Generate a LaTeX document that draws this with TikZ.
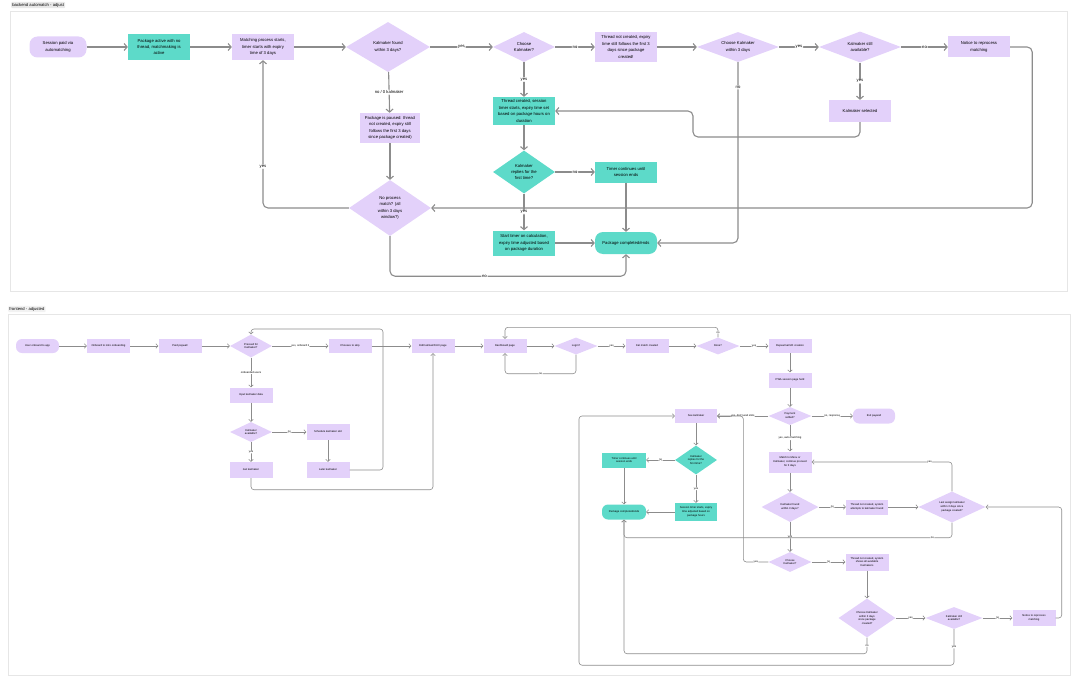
\documentclass[tikz,border=0pt]{standalone}
\usepackage{fontspec}
\setmainfont{Liberation Sans}
\usetikzlibrary{arrows.meta,shapes.geometric,positioning}
\definecolor{lav}{HTML}{E3D1FA}
\definecolor{tq}{HTML}{5DDAC9}
\definecolor{ln}{HTML}{8C8C8C}
\definecolor{frm}{HTML}{E6E6E6}
\newcommand\topfont{\fontsize{4.2}{6.4}\selectfont}
\newcommand\botfont{\fontsize{2.7}{3.9}\selectfont}
\begin{document}
\begin{tikzpicture}[x=1pt,y=-1pt,
    bx/.style={rectangle,fill=lav,align=center,inner sep=1pt,font=\topfont,
        minimum width=62pt,minimum height=26pt},
    tbx/.style={bx,fill=tq},
    rbx/.style={bx,rounded corners=8pt},
    dia/.style={diamond,fill=lav,align=center,inner sep=0pt,shape aspect=2.5,font=\topfont},
    tdia/.style={dia,fill=tq},
    fbx/.style={bx,font=\botfont,inner sep=.5pt,minimum width=43pt,minimum height=15pt},
    ftbx/.style={fbx,fill=tq},
    frbx/.style={fbx,rounded corners=6pt},
    fdia/.style={dia,font=\botfont,shape aspect=1.6},
    ftdia/.style={fdia,fill=tq},
    lbl/.style={fill=white,inner sep=.8pt,font=\topfont},
    flbl/.style={fill=white,inner sep=.5pt,font=\botfont},
    arr/.style={draw=ln,line width=1.1pt,rounded corners=5pt,
        -{Straight Barb[length=3pt,width=7pt]}},
    farr/.style={draw=ln,line width=.6pt,rounded corners=3pt,
        -{Straight Barb[length=2pt,width=4.5pt]}},
    ttl/.style={fill=black!9,inner sep=1.2pt,rounded corners=1pt,anchor=west,
        font=\fontsize{4.2}{5}\selectfont}]
\useasboundingbox (0,0) rectangle (1078,682);

\node[ttl] (t1) at (11,5) {backend automatch - adjust};
\draw[frm,line width=.6pt] (10,11) rectangle (1067,291);
\node[ttl,fill=black!5] (t2) at (8,309) {frontend - adjusted};
\draw[frm,line width=.6pt] (8,314) rectangle (1070,675);

\node[rbx,minimum width=57pt,minimum height=21pt] (1) at (58,47) {Session paid via\\automatching};
\node[tbx] (2) at (159,47) {Package active with no\\thread, matchmaking is\\active};
\node[bx] (3) at (263,47) {Matching process starts,\\timer starts with expiry\\time of 3 days};
\node[dia,minimum width=84pt,minimum height=50pt] (4) at (388,47) {Kalmaker found\\within 3 days?};
\node[dia,minimum width=62pt,minimum height=30pt] (5) at (524,47) {Choose\\Kalmaker?};
\node[bx,minimum height=30pt] (6) at (626,47) {Thread not created, expiry\\time still follows the first 3\\days since package\\created!};
\node[dia,minimum width=82pt,minimum height=30pt] (7) at (738,47) {Choose Kalmaker\\within 3 days};
\node[dia,minimum width=82pt,minimum height=31pt] (8) at (860,47) {Kalmaker still\\available?};
\node[bx,minimum height=21pt] (9) at (979,47) {Notice to reprocess\\matching};
\node[bx,minimum height=22pt] (10) at (860,111) {Kalmaker selected};
\node[tbx,minimum height=28pt] (11) at (524,111) {Thread created, session\\timer starts, expiry time set\\based on package hours on\\duration};
\node[tdia,shape aspect=1.4,minimum width=62pt,minimum height=43pt] (12) at (524,172) {Kalmaker\\replies for the\\first time?};
\node[tbx,minimum height=21pt] (13) at (626,172) {Timer continues until\\session ends};
\node[tbx,minimum height=25pt] (14) at (524,243) {Start timer on calculation,\\expiry time adjusted based\\on package duration};
\node[tbx,rounded corners=8pt,minimum height=22pt] (15) at (626,243) {Package completed/ends};
\node[bx,minimum width=60pt,minimum height=30pt] (16) at (390,128) {Package is paused: thread\\not created, expiry still\\follows the first 3 days\\since package created)};
\node[dia,shape aspect=1.5,minimum width=82pt,minimum height=56pt] (17) at (390,208) {No process\\match? (all\\within 3 days\\window?)};

\foreach \X/\Y in {1/2,2/3,3/4,6/7,11/12,13/15,14/15,16/17}
  \draw[arr] (\X) -- (\Y);
\foreach \X/\Y/\L in {4/5/yes,5/6/no,7/8/yes,8/9/no,8/10/yes,5/11/yes,12/13/no,12/14/yes}
  \draw[arr] (\X) -- node[lbl]{\L} (\Y);
\draw[arr] (4) -- node[lbl]{no / 0 kalmaker} (16);
\draw[arr] (9.east) -- ++(22,0) |- (17.east);
\draw[arr] (10.south) |- (693,137) |- (11.east);
\draw[arr] (7.south) |- node[lbl,pos=.07]{no} (15.east);
\draw[arr] (17.west) -| node[lbl,pos=.64]{yes} (3.south);
\draw[arr] (17.south) -- ++(0,40) -| node[lbl,pos=.2]{no} (15.south);

\node[frbx,minimum height=14pt] (b1) at (37.5,346) {User onboard to app};
\node[fbx,minimum height=14pt] (b2) at (108.5,346) {Onboard to intro onboarding};
\node[fbx,minimum height=14pt] (b3) at (180,346) {Paid paywall};
\node[fdia,minimum width=42pt,minimum height=23pt] (b4) at (251,346) {Pressed for\\Kalmaker?};
\node[fbx,minimum height=14pt] (b5) at (350,346) {Chooses to skip};
\node[fbx,minimum height=14pt] (b6) at (433,346) {Edit kalmatch/UX page};
\node[fbx] (b7) at (251,395) {Input kalmaker data};
\node[fdia,minimum width=42pt,minimum height=20pt] (b8) at (251,432) {Kalmaker\\available?};
\node[fbx,minimum height=16pt] (b9) at (328,432) {Schedule kalmaker slot};
\node[fbx,minimum height=16pt] (b10) at (328,470) {Later kalmaker};
\node[fbx,minimum height=16pt] (b11) at (251,470) {Get kalmaker};
\node[fbx,minimum height=14pt] (b12) at (505,346) {Dashboard page};
\node[fdia,minimum width=43pt,minimum height=17pt] (b13) at (576,346) {Login?};
\node[fbx,minimum height=14pt] (b14) at (647,346) {Kal match created};
\node[fdia,minimum width=43pt,minimum height=17pt] (b15) at (718,346) {Done?};
\node[fbx,minimum height=14pt] (b16) at (790,346) {Repeat kal/UX creation};
\node[fbx] (b17) at (790,380) {PWA session page held};
\node[fdia,minimum width=43pt,minimum height=18pt] (b18) at (790,416) {Payment\\settled?};
\node[frbx,minimum width=42pt] (b19) at (874,416) {Exit paywall};
\node[fbx,minimum width=42pt,minimum height=14pt] (b20) at (696,416) {See kalmaker};
\node[ftdia,minimum width=42pt,minimum height=29pt] (b21) at (696,460) {Kalmaker\\replies for the\\first time?};
\node[ftbx,minimum width=44pt] (b22) at (624,460) {Timer continues until\\session ends};
\node[ftbx,minimum width=42pt,minimum height=18pt] (b23) at (696,512) {Session timer starts, expiry\\time adjusted based on\\package hours};
\node[ftbx,rounded corners=6pt,minimum width=44pt] (b24) at (624,512) {Package completed/ends};
\node[fbx,minimum height=21pt] (b25) at (790,462) {Match to Menu or\\Kalmaker, continue proceed\\for 3 days};
\node[fdia,shape aspect=2,minimum width=57pt,minimum height=30pt] (b26) at (790,507) {Kalmaker found\\within 3 days?};
\node[fbx,minimum width=42pt] (b27) at (867,507) {Thread not created, system\\attempts to kalmaker found};
\node[fdia,shape aspect=2,minimum width=67pt,minimum height=31pt] (b28) at (952,507) {Last assign kalmaker\\within 3 days since\\package created?};
\node[fdia,minimum width=43pt,minimum height=20pt] (b29) at (790,562) {Choose\\Kalmaker?};
\node[fbx,minimum height=17pt] (b30) at (867,562) {Thread not created, system\\shows all available\\Kalmakers};
\node[fdia,shape aspect=1.5,minimum width=57pt,minimum height=39pt] (b31) at (867,618) {Choose Kalmaker\\within 3 days\\since package\\created?};
\node[fdia,shape aspect=2,minimum width=57pt,minimum height=22pt] (b32) at (954,618) {Kalmaker still\\available?};
\node[fbx,minimum height=16pt] (b33) at (1034,618) {Notice to reprocess\\matching};

\foreach \X/\Y in {b1/b2,b2/b3,b3/b4,b5/b6,b7/b8,b9/b10,b6/b12,b12/b13,b14/b15,b16/b17,
    b17/b18,b20/b21,b22/b24,b23/b24,b25/b26,b27/b28,b30/b31}
  \draw[farr] (\X) -- (\Y);
\foreach \X/\Y/\L in {b4/b7/onboarded users,b8/b9/no,b8/b11/yes,b13/b14/yes,b15/b16/yes,
    b21/b22/no,b21/b23/yes,b26/b27/no,b26/b29/yes,b29/b30/no,b31/b32/yes,b32/b33/no}
  \draw[farr] (\X) -- node[flbl]{\L} (\Y);
\draw[farr] (b4) -- node[flbl]{yes, onboard it} (b5);
\draw[farr] (b18) -- node[flbl]{no, response} (b19);
\draw[farr] (b18) -- node[flbl]{yes, don't wait slots} (b20);
\draw[farr] (b18) -- node[flbl]{yes, auto-matching} (b25);
\draw[farr] (b10.east) -| (383,329) -| (b4.north);
\draw[farr] (b11.south) -- ++(0,11.5) -| (b6.south);
\draw[farr] (b13.south) -- ++(0,19) -| node[flbl,pos=.25]{no} (b12.south);
\draw[farr] (b15.north) -- node[flbl]{no} ++(0,-10) -| (b12.north);
\draw[farr] (b28.north) |- node[flbl,pos=.58]{yes} (b25.east);
\draw[farr] (b33.east) -- ++(6,0) |- (b28.east);
\draw[farr] (b29.west) -- node[flbl]{yes} ++(-25,0) |- (b20.east);
\draw[farr] (b28.south) -- ++(0,15) -| node[flbl,pos=.03]{no} (b24.south);
\draw[farr] (b31.south) -- node[flbl]{no} ++(0,16) -| (b24.south);
\draw[farr] (b32.south) -- node[flbl]{yes} ++(0,36) -| (579,416) -- (b20.west);
\end{tikzpicture}
\end{document}
